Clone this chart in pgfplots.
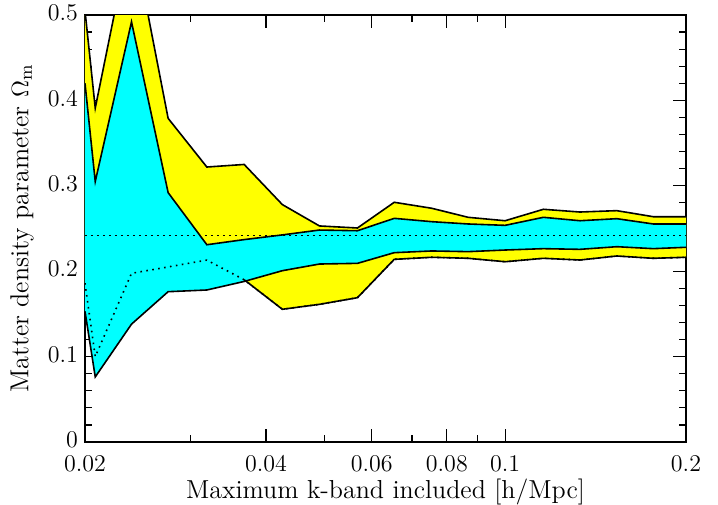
\documentclass[border=0pt]{standalone}
\usepackage{pgfplots}
\usepgfplotslibrary{fillbetween}
\usepackage{pgfplotstable}
\pgfplotsset{compat=1.18}
\pgfplotstableread{
k       yu      cu      cl      yl
0.02    0.505   0.42    0.153   0.186
0.0208  0.391   0.305   0.0762  0.100
0.0239  0.60    0.492   0.138   0.1975
0.0275  0.379   0.292   0.176   0.205
0.0319  0.322   0.231   0.178   0.213
0.0368  0.325   0.237   0.188   0.190
0.0426  0.278   0.2425  0.2006  0.1554
0.0491  0.253   0.2482  0.2084  0.1612
0.0568  0.2506  0.2474  0.2092  0.169
0.0654  0.2807  0.2619  0.2217  0.2139
0.0755  0.2737  0.258   0.2237  0.2163
0.0868  0.2631  0.2553  0.2229  0.2151
0.1     0.2591  0.2537  0.2248  0.2111
0.1158  0.2725  0.2631  0.2264  0.2151
0.1332  0.2693  0.2591  0.2256  0.2131
0.1534  0.2709  0.2615  0.2287  0.2178
0.1765  0.2638  0.2553  0.2264  0.2151
0.2     0.2638  0.2553  0.228   0.2163
}\bandtable
\begin{document}
\begin{tikzpicture}
\begin{axis}[
  at={(0,0)}, anchor=south west,
  scale only axis, width=300.5pt, height=213.5pt,
  xmode=log, xmin=0.02, xmax=0.2, ymin=0, ymax=0.5,
  xtick={0.02,0.04,0.06,0.08,0.1,0.2},
  xticklabels={0.02,0.04,0.06,0.08,0.1,0.2},
  minor xtick={0.03,0.05,0.07,0.09},
  ytick={0,0.1,0.2,0.3,0.4,0.5},
  yticklabels={0,0.1,0.2,0.3,0.4,0.5},
  minor y tick num=4,
  tick align=inside,
  major tick length=6.5pt, minor tick length=3.5pt,
  every tick/.style={black, line width=0.6pt},
  axis line style={line width=0.9pt},
  tick label style={font=\large},
  xticklabel style={yshift=-3pt},
  yticklabel style={yshift=1pt},
  xlabel={Maximum k-band included [h/Mpc]},
  ylabel={Matter density parameter $\Omega_{\mathrm{m}}$},
  label style={font=\fontsize{13}{15}\selectfont},
  xlabel style={at={(axis description cs:0.5,-0.117)}, anchor=center},
  ylabel style={at={(axis description cs:-0.105,0.5)}, anchor=center},
  clip=true,
]
\addplot[draw=none, name path=yu] table[x=k, y=yu] {\bandtable};
\addplot[draw=none, name path=yl] table[x=k, y=yl] {\bandtable};
\addplot[draw=none, name path=cu] table[x=k, y=cu] {\bandtable};
\addplot[draw=none, name path=cl] table[x=k, y=cl] {\bandtable};
\addplot[fill={rgb,1:red,1;green,1;blue,0}, draw=none] fill between[of=yu and yl];
\addplot[fill={rgb,1:red,0;green,1;blue,1}, draw=none] fill between[of=cu and cl];
\addplot[black, line width=0.8pt, dash pattern=on 0.8pt off 2.2pt] table[x=k, y=yl] {\bandtable};
\addplot[black, line width=0.8pt, skip coords between index={0}{5}] table[x=k, y=yl] {\bandtable};
\addplot[black, line width=0.8pt] table[x=k, y=yu] {\bandtable};
\addplot[black, line width=0.8pt] table[x=k, y=cu] {\bandtable};
\addplot[black, line width=0.8pt] table[x=k, y=cl] {\bandtable};
\addplot[black, line width=0.8pt, dash pattern=on 0.8pt off 2.2pt] coordinates {(0.02,0.242) (0.2,0.242)};
\end{axis}
\pgfresetboundingbox
\useasboundingbox (-42.5pt,-31pt) rectangle (316.5pt,221pt);
\end{tikzpicture}
\end{document}
